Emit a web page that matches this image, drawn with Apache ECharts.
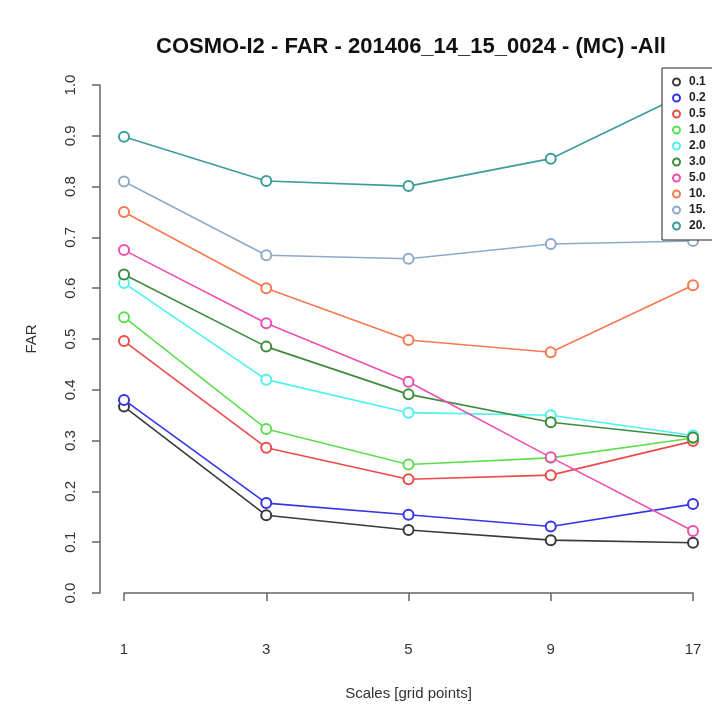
<!DOCTYPE html>
<html>
<head>
<meta charset="utf-8">
<script src="https://cdn.jsdelivr.net/npm/echarts@6/dist/echarts.min.js"></script>
<style>
  html, body { margin: 0; padding: 0; background: #fff; }
  #chart { width: 712px; height: 709px; }
</style>
</head>
<body>
<div id="chart"></div>
<script>
// scales on the x axis (grid points)
const scales = ['1', '3', '5', '9', '17'];
// thresholds shown in the legend (cut off at the right edge like the original)
const thresholds = ['0.1', '0.2', '0.5', '1.0', '2.0', '3.0', '5.0', '10.', '15.', '20.'];
const yTicks = [0, 0.1, 0.2, 0.3, 0.4, 0.5, 0.6, 0.7, 0.8, 0.9, 1.0];

// FAR values per threshold, one per scale
const far01 = [0.367, 0.153, 0.124, 0.104, 0.099];
const far02 = [0.380, 0.177, 0.154, 0.131, 0.175];
const far05 = [0.496, 0.286, 0.224, 0.232, 0.299];
const far10 = [0.543, 0.323, 0.253, 0.266, 0.305];
const far20 = [0.610, 0.420, 0.355, 0.350, 0.310];
const far30 = [0.627, 0.485, 0.391, 0.336, 0.306];
const far50 = [0.675, 0.531, 0.416, 0.267, 0.122];
const far100 = [0.750, 0.600, 0.498, 0.474, 0.606];
const far150 = [0.810, 0.665, 0.658, 0.687, 0.693];
const far200 = [0.898, 0.811, 0.801, 0.855, 0.990];

const farData = [far01, far02, far05, far10, far20, far30, far50, far100, far150, far200];
const colors = ['#3a3a3a', '#3535e8', '#ee4a4a', '#5ede4e', '#4ef0f0',
                '#3c8c3c', '#ee4fae', '#f7794f', '#8eaacb', '#3a9c9c'];

const FONT = '"Liberation Sans", Arial, sans-serif';

const chart = echarts.init(document.getElementById('chart'));

chart.setOption({
  animation: false,
  backgroundColor: '#fff',
  title: {
    text: 'COSMO-I2 - FAR - 201406_14_15_0024 - (MC) -All',
    left: 406,
    top: 31,
    textAlign: 'center',
    textStyle: { fontFamily: FONT, fontSize: 22, fontWeight: 'bold', color: '#111' }
  },
  legend: {
    orient: 'vertical',
    left: 662,
    top: 68,
    z: 10,
    data: thresholds,
    icon: 'emptyCircle',
    itemWidth: 7,
    itemHeight: 7,
    itemGap: 2,
    padding: [7, 40, 7, 10],
    backgroundColor: '#fff',
    borderColor: '#222',
    borderWidth: 1,
    borderRadius: 0,
    textStyle: { fontFamily: FONT, fontSize: 12, fontWeight: 'bold', color: '#222', lineHeight: 14, padding: [0, 0, 0, 4] }
  },
  grid: { left: 124, right: 19, top: 85, bottom: 116 },
  xAxis: {
    type: 'category',
    data: scales,
    boundaryGap: false,
    offset: 24,
    name: 'Scales [grid points]',
    nameLocation: 'middle',
    nameGap: 69,
    nameTextStyle: { fontFamily: FONT, fontSize: 15, color: '#333' },
    axisLine: { lineStyle: { color: '#666', width: 1.5 } },
    axisTick: { alignWithLabel: true, length: 8, lineStyle: { color: '#666', width: 1.5 } },
    axisLabel: { margin: 25, fontFamily: FONT, fontSize: 15, color: '#333' },
    splitLine: { show: false }
  },
  yAxis: {
    type: 'value',
    min: 0,
    max: 1,
    interval: 0.1,
    offset: 24,
    name: 'FAR',
    nameLocation: 'middle',
    nameGap: 61,
    nameTextStyle: { fontFamily: FONT, fontSize: 15, color: '#333' },
    axisLine: { show: true, lineStyle: { color: '#666', width: 1.5 } },
    axisTick: { show: true, length: 8, lineStyle: { color: '#666', width: 1.5 } },
    axisLabel: {
      rotate: 90,
      margin: 22,
      fontFamily: FONT,
      fontSize: 15,
      color: '#333',
      formatter: v => yTicks.indexOf(Math.round(v * 10) / 10) >= 0 ? v.toFixed(1) : ''
    },
    splitLine: { show: false }
  },
  series: thresholds.map((name, i) => ({
    name: name,
    type: 'line',
    data: farData[i],
    symbol: 'emptyCircle',
    symbolSize: 10,
    color: colors[i],
    lineStyle: { width: 1.6, color: colors[i] },
    itemStyle: { color: colors[i], borderColor: colors[i], borderWidth: 1.3 }
  }))
});
</script>
</body>
</html>
